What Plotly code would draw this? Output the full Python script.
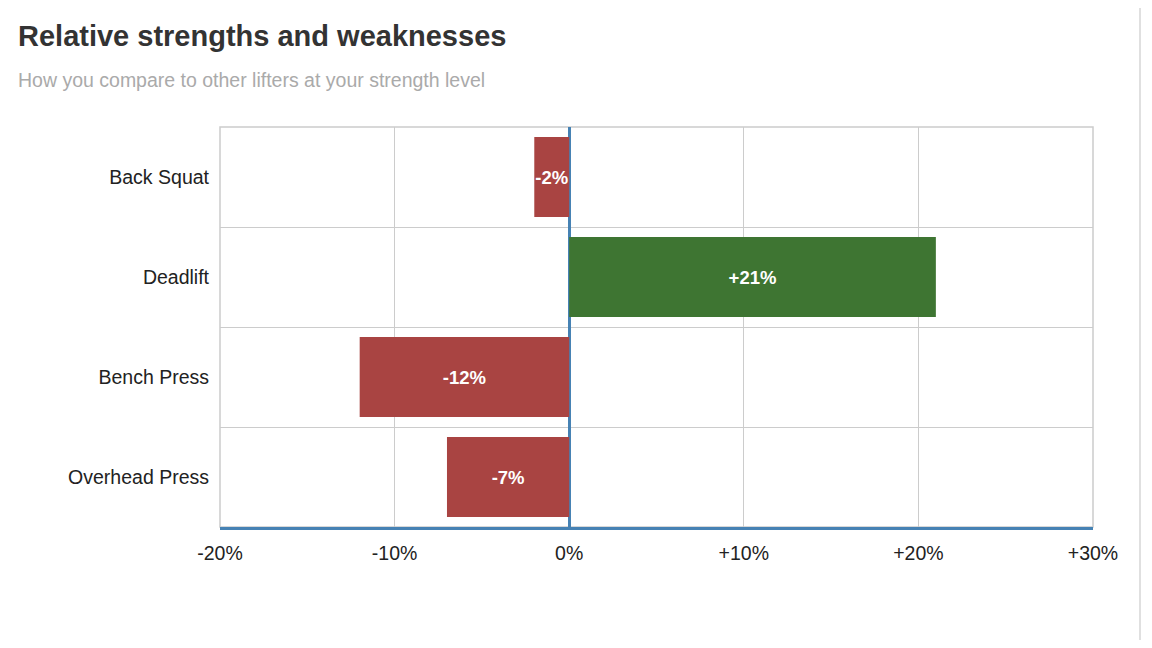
import plotly.graph_objects as go

lifts = ["Back Squat", "Deadlift", "Bench Press", "Overhead Press"]
values = [-2, 21, -12, -7]
labels = ["-2%", "+21%", "-12%", "-7%"]
tick_vals = [-20, -10, 0, 10, 20, 30]
tick_text = ["-20%", "-10%", "0%", "+10%", "+20%", "+30%"]

RED = "#A94442"
GREEN = "#3E7532"
colors = [GREEN if v > 0 else RED for v in values]
FONT = "Liberation Sans, Arial, sans-serif"

fig = go.Figure(go.Bar(
    x=values, y=lifts, orientation="h",
    marker=dict(color=colors, line=dict(width=0)),
    text=labels, textposition="inside", insidetextanchor="middle",
    textangle=0, constraintext="none",
    textfont=dict(family=FONT, size=18.5, color="white", weight="bold"),
    hoverinfo="skip",
))

fig.update_layout(
    width=1136, height=632,
    margin=dict(l=212, r=51, t=119, b=113),
    paper_bgcolor="white", plot_bgcolor="white",
    bargap=0.2, showlegend=False,
    font=dict(family=FONT, color="#222"),
    xaxis=dict(
        range=[-20, 30], tickvals=tick_vals, ticktext=tick_text,
        showgrid=True, gridcolor="#cccccc", gridwidth=1,
        zeroline=True, zerolinecolor="#4682B4", zerolinewidth=2.5,
        showline=True, linecolor="#4682B4", linewidth=3,
        ticks="", tickfont=dict(size=19.5, color="#222"), ticklabelstandoff=7,
        fixedrange=True,
    ),
    yaxis=dict(
        categoryorder="array", categoryarray=lifts, autorange="reversed",
        tickson="boundaries", showgrid=True, gridcolor="#cccccc", gridwidth=1,
        showline=False, ticks="", tickfont=dict(size=19.5, color="#222"),
        ticklabelstandoff=10, fixedrange=True,
    ),
    shapes=[
        dict(type="rect", xref="paper", yref="paper", x0=0, x1=1, y0=0, y1=1,
             line=dict(color="#cccccc", width=1.5), layer="below"),
        dict(type="line", xref="paper", yref="paper", x0=(1140-220)/873, x1=(1140-220)/873,
             y0=-113/400, y1=127/400 + 1, line=dict(color="#e0e0e0", width=2)),
    ],
    annotations=[
        dict(text="<b>Relative strengths and weaknesses</b>", xref="paper", yref="paper",
             x=-204/873, y=1 + (127-36)/400, xanchor="left", yanchor="middle", showarrow=False,
             font=dict(size=29, color="#333", family=FONT)),
        dict(text="How you compare to other lifters at your strength level", xref="paper", yref="paper",
             x=-204/873, y=1 + (127-80)/400, xanchor="left", yanchor="middle", showarrow=False,
             font=dict(size=19.5, color="#aaaaaa", family=FONT)),
    ],
)

fig.write_html("out.html")
